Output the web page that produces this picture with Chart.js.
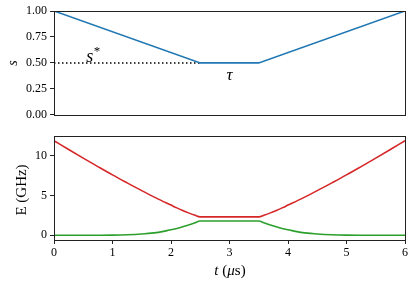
<!DOCTYPE html>
<html><head><meta charset="utf-8">
<script src="https://cdn.jsdelivr.net/npm/chart.js@4"></script>
<style>
html,body{margin:0;padding:0;background:#fff;}
#wrap{position:relative;width:416px;height:285px;}
#c1w{position:absolute;left:0;top:0;width:416px;height:125px;}
#c2w{position:absolute;left:0;top:125px;width:416px;height:160px;}
canvas{display:block;}
</style></head>
<body><div id="wrap"><div id="c1w"><canvas id="c1" width="416" height="125"></canvas></div><div id="c2w"><canvas id="c2" width="416" height="160"></canvas></div></div>
<script>
// ---- data ----
const tS = [0, 2.5, 3.5, 6];
const sVal = [1, 0.5, 0.5, 1];
const tDot = [0, 2.5];
const sDot = [0.5, 0.5];
const sTicks = [0, 0.25, 0.5, 0.75, 1];

const tE = [0,0.25,0.5,0.75,1,1.25,1.5,1.75,2,2.1,2.2,2.3,2.4,2.5,3.5,3.6,3.7,3.8,3.9,4,4.25,4.5,4.75,5,5.25,5.5,5.75,6];
const eRed = [11.9,10.8,9.72,8.65,7.6,6.6,5.62,4.68,3.8,3.45,3.12,2.82,2.55,2.32,2.32,2.55,2.82,3.12,3.45,3.8,4.68,5.62,6.6,7.6,8.65,9.72,10.8,11.9];
const eGreen = [0,0,0,0.005,0.02,0.07,0.17,0.33,0.7,0.86,1.06,1.29,1.54,1.8,1.8,1.54,1.29,1.06,0.86,0.7,0.33,0.17,0.07,0.02,0.005,0,0,0];
const eTicks = [0, 5, 10];
const tTicks = [0,1,2,3,4,5,6];

const pts = (xs, ys) => xs.map((x, i) => ({x, y: ys[i]}));
const SERIF = '"Liberation Serif", "DejaVu Serif", serif';
const tickFont = {family: SERIF, size: 12};

function runs(ctx, items, x, y, align) {
  let w = 0;
  items.forEach(([t, f]) => { ctx.font = f; w += ctx.measureText(t).width; });
  let cx = align === 'center' ? x - w / 2 : x;
  ctx.textAlign = 'left';
  items.forEach(([t, f]) => { ctx.font = f; ctx.fillText(t, cx, y); cx += ctx.measureText(t).width; });
}

const frame = {
  id: 'frame',
  afterDraw(chart, args, opts) {
    const {ctx, chartArea: a} = chart;
    ctx.save();
    ctx.strokeStyle = '#222'; ctx.lineWidth = 1;
    ctx.strokeRect(Math.round(a.left) + 0.5, Math.round(a.top) + 0.5, Math.round(a.right - a.left), Math.round(a.bottom - a.top));
    ctx.fillStyle = '#000';
    ctx.textBaseline = 'alphabetic';
    if (opts.labels) opts.labels(chart, ctx);
    ctx.restore();
  }
};

const yGrid = {display: true, drawOnChartArea: false, drawTicks: true, tickLength: 4, color: '#222', lineWidth: 1};

new Chart(document.getElementById('c1'), {
  type: 'line',
  data: {datasets: [
    {data: pts(tS, sVal), borderColor: '#1f77b4', borderWidth: 1.6, pointRadius: 0, tension: 0},
    {data: pts(tDot, sDot), borderColor: '#000', borderWidth: 1.5, borderDash: [1.5, 2.5], pointRadius: 0, tension: 0}
  ]},
  options: {
    responsive: false, animation: false, maintainAspectRatio: false, devicePixelRatio: 1,
    layout: {padding: {left: 0, right: 11, top: 11, bottom: 10}},
    plugins: {legend: {display: false}, tooltip: {enabled: false},
      frame: {labels(chart, ctx) {
        const xs = chart.scales.x, ys = chart.scales.y;
        ctx.save();
        ctx.translate(17, 63); ctx.rotate(-Math.PI / 2);
        ctx.textAlign = 'center';
        ctx.font = 'italic 14px ' + SERIF;
        ctx.fillText('s', 0, 0);
        ctx.restore();
        ctx.textAlign = 'left';
        const x1 = xs.getPixelForValue(0.55), y1 = ys.getPixelForValue(0.51);
        ctx.font = 'italic 18px ' + SERIF; ctx.fillText('s', x1, y1);
        ctx.font = '13px ' + SERIF; ctx.fillText('*', x1 + 7.5, y1 - 7);
        ctx.textAlign = 'center';
        ctx.font = 'italic 17px ' + SERIF;
        ctx.fillText('τ', xs.getPixelForValue(3.0), ys.getPixelForValue(0.335));
      }}
    },
    scales: {
      x: {type: 'linear', min: 0, max: 6, display: false},
      y: {type: 'linear', min: 0, max: 1,
        afterFit(s) { s.width = 54; },
        afterBuildTicks(s) { s.ticks = sTicks.map(v => ({value: v})); },
        ticks: {font: tickFont, color: '#000', padding: 3, callback: v => v.toFixed(2)},
        grid: yGrid, border: {display: false}}
    }
  },
  plugins: [frame]
});

new Chart(document.getElementById('c2'), {
  type: 'line',
  data: {datasets: [
    {data: pts(tE, eRed), borderColor: '#d62728', borderWidth: 1.6, pointRadius: 0, cubicInterpolationMode: 'monotone'},
    {data: pts(tE, eGreen), borderColor: '#2ca02c', borderWidth: 1.6, pointRadius: 0, cubicInterpolationMode: 'monotone'}
  ]},
  options: {
    responsive: false, animation: false, maintainAspectRatio: false, devicePixelRatio: 1,
    layout: {padding: {left: 0, right: 11, top: 11, bottom: 0}},
    plugins: {legend: {display: false}, tooltip: {enabled: false},
      frame: {labels(chart, ctx) {
        ctx.save();
        ctx.translate(26, 65); ctx.rotate(-Math.PI / 2);
        runs(ctx, [['E (GHz)', '15px ' + SERIF]], 0, 0, 'center');
        ctx.restore();
        runs(ctx, [['t', 'italic 15px ' + SERIF], [' (', '15px ' + SERIF], ['μ', 'italic 15px ' + SERIF], ['s)', '15px ' + SERIF]], 230, 150, 'center');
      }}
    },
    scales: {
      x: {type: 'linear', min: 0, max: 6,
        afterFit(s) { s.height = 45; },
        afterBuildTicks(s) { s.ticks = tTicks.map(v => ({value: v})); },
        ticks: {font: tickFont, color: '#000', padding: 2, maxRotation: 0},
        grid: yGrid, border: {display: false}},
      y: {type: 'linear', min: -0.595, max: 12.5,
        afterFit(s) { s.width = 54; },
        afterBuildTicks(s) { s.ticks = eTicks.map(v => ({value: v})); },
        ticks: {font: tickFont, color: '#000', padding: 3},
        grid: yGrid, border: {display: false}}
    }
  },
  plugins: [frame]
});
</script></body></html>
